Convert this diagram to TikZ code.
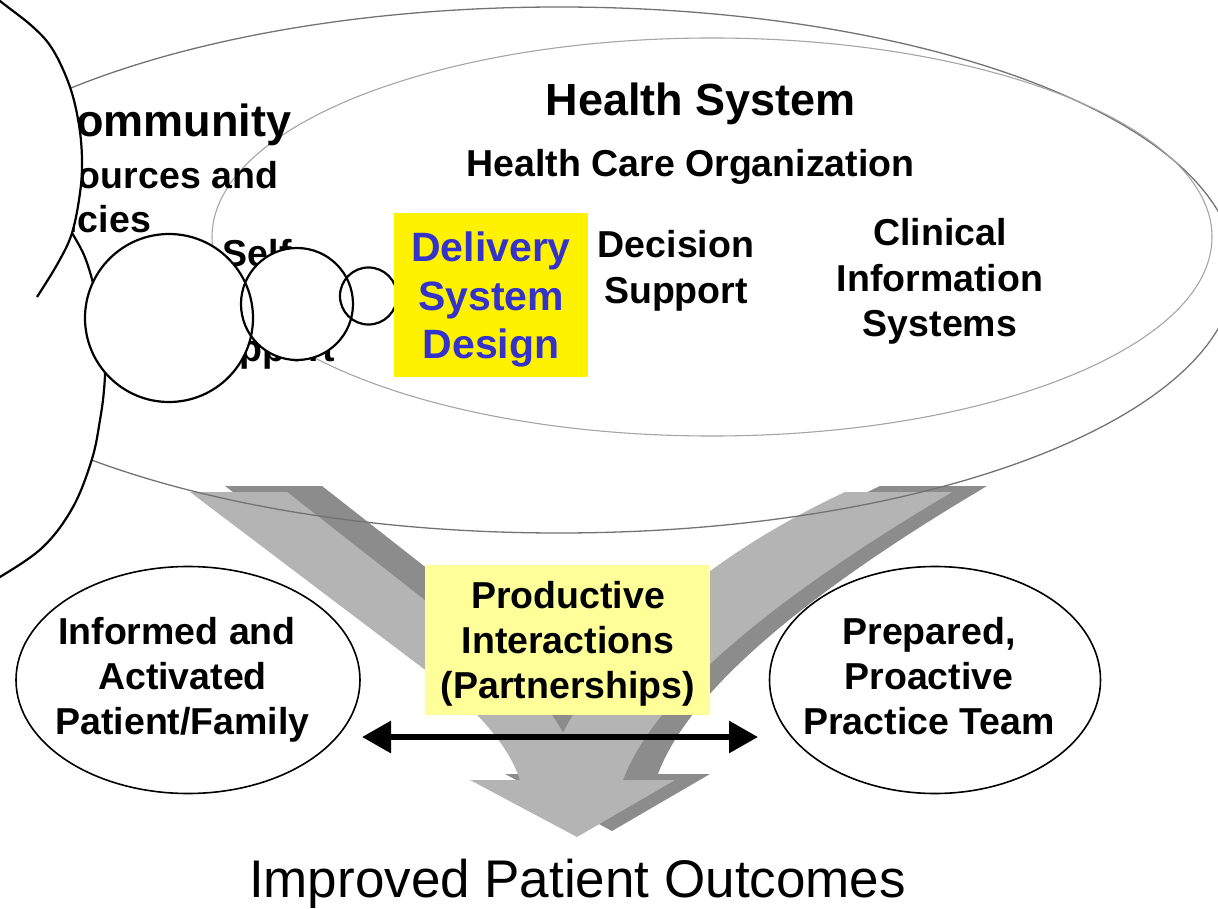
\documentclass[tikz,border=0pt]{standalone}
\usepackage{fontspec}
\setmainfont{Liberation Sans}
\usetikzlibrary{arrows.meta,shapes.geometric}
\definecolor{lightarrow}{RGB}{180,180,180}
\definecolor{darkarrow}{RGB}{140,140,140}
\definecolor{outerline}{RGB}{115,115,115}
\definecolor{innerline}{RGB}{165,165,165}
\definecolor{dsdblue}{RGB}{51,51,204}
\definecolor{paleyellow}{RGB}{255,255,153}
\begin{document}
\begin{tikzpicture}[x=1pt,y=-1pt,
  bigtxt/.style={font=\fontsize{45}{54}\selectfont\bfseries, inner sep=0pt, anchor=base},
  midtxt/.style={font=\fontsize{37.5}{45}\selectfont\bfseries, inner sep=0pt, anchor=base},
  dsdtxt/.style={font=\fontsize{41}{49}\selectfont\bfseries, text=dsdblue, inner sep=0pt, anchor=base},
  outtxt/.style={font=\fontsize{53}{64}\selectfont, inner sep=0pt, anchor=base},
  ring/.style={circle, fill=white, inner sep=0pt},
  ringline/.style={line width=2.2pt, black},
  commline/.style={line width=2.2pt, black},
  pellipse/.style={ellipse, draw=black, line width=1.6pt, fill=white, inner sep=0pt},
  dblarrow/.style={line width=6pt, {Triangle[length=29pt,width=31pt]}-{Triangle[length=29pt,width=31pt]}}
]
\path[use as bounding box] (0,0) rectangle (1218,909);
\clip (0,0) rectangle (1218,909);

% big grey V arrow: back face (dark), then front face (light)
\foreach \dx/\dy/\col in {35/-6/darkarrow, 0/0/lightarrow}{
  \fill[\col, shift={(\dx,\dy)}]
    (190,492) -- (287,492) -- (440,612)
    .. controls (500,659) and (540,690) .. (563,733)
    .. controls (605,650) and (700,560) .. (845,492)
    -- (952,492)
    .. controls (820,570) and (660,680) .. (623,780)
    -- (675,780) -- (577,837) -- (470,780) -- (520,780)
    .. controls (505,735) and (460,696) .. (420,666) -- cycle;
}

% health system ellipses
\draw[outerline, line width=1.3pt] (559,270) ellipse [x radius=676, y radius=263];
\draw[innerline, line width=1.1pt] (712,237) ellipse [x radius=500, y radius=199];

% texts partly hidden
\node[bigtxt, anchor=base west] (com) at (43.5,137) {Community};
\node[midtxt, anchor=base west] (res1) at (9,188.5) {Resources and};
\node[midtxt, anchor=base west] (res2) at (9,233) {Policies};
\node[midtxt] (sms1) at (263.5,267) {Self-};
\node[midtxt] (sms2) at (263.5,314) {Management};
\node[midtxt] (sms3) at (263.5,361) {Support};

% community shape (white, on top of texts)
\fill[white] plot[smooth, tension=0.6] coordinates {(72,233) (84,255) (93,283) (101,320) (105,360) (104,390) (100,420) (92,459) (73,507) (43,547) (0,577) (-15,584)} -- (-30,600) -- (-30,233) -- cycle;
\draw[commline] plot[smooth, tension=0.6] coordinates {(72,233) (84,255) (93,283) (101,320) (105,360) (104,390) (100,420) (92,459) (73,507) (43,547) (0,577) (-15,584)};
\fill[white] plot[smooth, tension=0.6] coordinates {(-15,-12) (0,1) (33,27) (53,50) (70,87) (79,125) (82,160) (80,193) (72,233) (58,263) (37,297)} -- (-30,297) -- (-30,-12) -- cycle;
\draw[commline] plot[smooth, tension=0.6] coordinates {(-15,-12) (0,1) (33,27) (53,50) (70,87) (79,125) (82,160) (80,193) (72,233) (58,263) (37,297)};

% circles
\node[ring, minimum size=168pt] (c1) at (169,318) {};
\node[ring, minimum size=112pt] (c2) at (297,304) {};
\node[ring, minimum size=57pt] (c3) at (368.5,296) {};
\draw[ringline] (c1.center) circle [radius=84];
\draw[ringline] (c2.center) circle [radius=56];
\draw[ringline] (c3.center) circle [radius=28.5];

% health system texts
\node[bigtxt] (hs) at (701,116) {Health System};
\node[midtxt] (hco) at (690.5,177) {Health Care Organization};

% delivery system design
\node[fill=yellow, minimum width=194pt, minimum height=164pt, inner sep=0pt] (dsdbox) at (491,295) {};
\node[dsdtxt] (dsd1) at (491,262) {Delivery};
\node[dsdtxt] (dsd2) at (491,310) {System};
\node[dsdtxt] (dsd3) at (491,358) {Design};

\node[midtxt] (ds1) at (676,257.5) {Decision};
\node[midtxt] (ds2) at (676,303.5) {Support};

\node[midtxt] (cis1) at (940,245.5) {Clinical};
\node[midtxt] (cis2) at (940,291.5) {Information};
\node[midtxt] (cis3) at (940,337) {Systems};

% productive interactions
\node[fill=paleyellow, minimum width=285pt, minimum height=150pt, inner sep=0pt] (pibox) at (567.5,640) {};
\node[midtxt] (pi1) at (568,608) {Productive};
\node[midtxt] (pi2) at (568,653) {Interactions};
\node[midtxt] (pi3) at (568,698) {(Partnerships)};

% patient / team ellipses
\node[pellipse, minimum width=344pt, minimum height=227pt] (iap) at (188,680) {};
\node[midtxt] (iap1) at (177,644) {Informed and};
\node[midtxt] (iap2) at (182.5,689) {Activated};
\node[midtxt] (iap3) at (182.5,734) {Patient/Family};

\node[pellipse, minimum width=331pt, minimum height=227pt] (ppt) at (935,680) {};
\node[midtxt] (ppt1) at (929,644) {Prepared,};
\node[midtxt] (ppt2) at (929,689) {Proactive};
\node[midtxt] (ppt3) at (929,734) {Practice Team};

% double arrow between the two
\coordinate (la) at (362,737);
\coordinate (ra) at (758,737);
\draw[dblarrow] (la) -- (ra);

\node[outtxt] (ipo) at (577.5,897) {Improved Patient Outcomes};
\end{tikzpicture}
\end{document}
